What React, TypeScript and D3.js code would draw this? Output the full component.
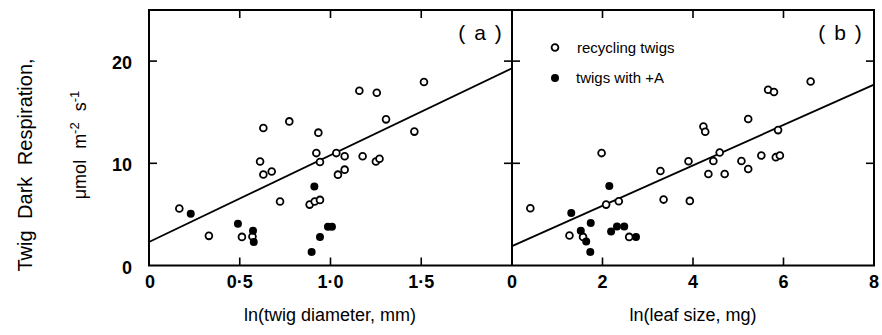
import React from "react";
import * as d3 from "d3";

// Panel (a): ln(twig diameter, mm)
const aOpenX = [0.167, 0.33, 0.512, 0.57, 0.612, 0.63, 0.63, 0.676, 0.722, 0.773, 0.885, 0.913, 0.942, 0.922, 0.942, 0.933, 1.032, 1.078, 1.041, 1.078, 1.159, 1.177, 1.25, 1.27, 1.255, 1.306, 1.462, 1.515];
const aOpenY = [5.57, 2.9, 2.8, 2.84, 10.17, 8.9, 13.45, 9.2, 6.26, 14.1, 5.96, 6.26, 6.42, 11.0, 10.13, 13.0, 11.0, 10.69, 8.89, 9.38, 17.1, 10.69, 10.17, 10.45, 16.9, 14.3, 13.1, 17.95];
const aFilledX = [0.23, 0.49, 0.573, 0.577, 0.896, 0.911, 0.942, 0.986, 1.008];
const aFilledY = [5.07, 4.09, 3.4, 2.3, 1.33, 7.73, 2.78, 3.79, 3.79];
const aLineX = [0, 2];
const aLineY = [2.3, 19.3];

// Panel (b): ln(leaf size, mg)
const bOpenX = [0.405, 1.27, 1.57, 1.98, 2.08, 2.36, 2.59, 3.28, 3.35, 3.9, 3.93, 4.23, 4.27, 4.34, 4.45, 4.59, 4.7, 5.07, 5.22, 5.22, 5.51, 5.66, 5.79, 5.83, 5.92, 5.88, 6.6];
const bOpenY = [5.6, 2.94, 2.8, 11.0, 5.96, 6.29, 2.8, 9.24, 6.45, 10.2, 6.32, 13.6, 13.08, 8.95, 10.23, 11.05, 8.95, 10.23, 9.44, 14.33, 10.76, 17.2, 16.97, 10.6, 10.76, 13.25, 18.0];
const bFilledX = [1.31, 1.52, 1.64, 1.74, 1.73, 2.15, 2.19, 2.32, 2.48, 2.74];
const bFilledY = [5.14, 3.4, 2.35, 4.16, 1.33, 7.77, 3.33, 3.82, 3.82, 2.8];
const bLineX = [0, 8];
const bLineY = [1.9, 17.7];

const aTicks = [0, 0.5, 1.0, 1.5];
const aTickLabels = ["0", "0·5", "1·0", "1·5"];
const bTicks = [0, 2, 4, 6, 8];
const bTickLabels = ["0", "2", "4", "6", "8"];
const yTicks = [0, 10, 20];
const yTickLabels = ["0", "10", "20"];
const legendLabels = ["recycling twigs", "twigs with +A"];

const FONT = "'Liberation Sans', Arial, Helvetica, sans-serif";

export default function App() {
  const top = 10, bottom = 265.5;
  const xA = d3.scaleLinear().domain([0, 2]).range([149, 512]);
  const xB = d3.scaleLinear().domain([0, 8]).range([512, 874]);
  const y = d3.scaleLinear().domain([0, 25]).range([bottom, top]);
  const line = d3.line<[number, number]>();

  const aLine = line(aLineX.map((v, i) => [xA(v), y(aLineY[i])] as [number, number]));
  const bLine = line(bLineX.map((v, i) => [xB(v), y(bLineY[i])] as [number, number]));

  const tl = 8;
  const r = 3.4;

  return (
    <svg width={882} height={335} style={{ position: "absolute", left: 0, top: 0, background: "#fff" }} fontFamily={FONT}>
      {/* frame */}
      <rect x={149} y={top} width={874 - 149} height={bottom - top} fill="none" stroke="#000" strokeWidth={2} />
      <line x1={512} x2={512} y1={top} y2={bottom} stroke="#000" strokeWidth={2} />

      {/* x ticks panel a */}
      {aTicks.filter(t => t > 0).map((t, i) => (
        <g key={"at" + i} stroke="#000" strokeWidth={1.6}>
          <line x1={xA(t)} x2={xA(t)} y1={top} y2={top + tl} />
          <line x1={xA(t)} x2={xA(t)} y1={bottom} y2={bottom - tl} />
        </g>
      ))}
      {bTicks.filter(t => t > 0 && t < 8).map((t, i) => (
        <g key={"bt" + i} stroke="#000" strokeWidth={1.6}>
          <line x1={xB(t)} x2={xB(t)} y1={top} y2={top + tl} />
          <line x1={xB(t)} x2={xB(t)} y1={bottom} y2={bottom - tl} />
        </g>
      ))}
      {/* y ticks */}
      {yTicks.filter(t => t > 0).map((t, i) => (
        <g key={"yt" + i} stroke="#000" strokeWidth={1.6}>
          <line x1={149} x2={149 + tl} y1={y(t)} y2={y(t)} />
          <line x1={512 - tl} x2={512 + tl} y1={y(t)} y2={y(t)} />
          <line x1={874} x2={874 - tl} y1={y(t)} y2={y(t)} />
        </g>
      ))}

      {/* tick labels */}
      {aTicks.map((t, i) => (
        <text key={"al" + i} x={xA(t) + (i === 0 ? 1 : 0)} y={288} textAnchor="middle" fontSize={18} fontWeight="bold">{aTickLabels[i]}</text>
      ))}
      {bTicks.map((t, i) => (
        <text key={"bl" + i} x={xB(t)} y={288} textAnchor="middle" fontSize={18} fontWeight="bold">{bTickLabels[i]}</text>
      ))}
      {yTicks.map((t, i) => (
        <text key={"yl" + i} x={132} y={y(t) + 2} textAnchor="end" dominantBaseline="central" fontSize={18} fontWeight="bold">{yTickLabels[i]}</text>
      ))}

      {/* axis titles */}
      <text x={330} y={321} textAnchor="middle" fontSize={18}>ln(twig diameter, mm)</text>
      <text x={693} y={321} textAnchor="middle" fontSize={18}>ln(leaf size, mg)</text>
      <text transform="translate(32,165) rotate(-90)" textAnchor="middle" fontSize={20} wordSpacing={6}>Twig Dark Respiration,</text>
      <text transform="translate(86,145) rotate(-90)" textAnchor="middle" fontSize={18} wordSpacing={6}>
        μmol m<tspan dy={-7} fontSize={13}>-2</tspan><tspan dy={7}> s</tspan><tspan dy={-7} fontSize={13}>-1</tspan>
      </text>

      {/* panel labels */}
      <text x={480} y={40} textAnchor="middle" fontSize={21} wordSpacing={3}>( a )</text>
      <text x={840} y={40} textAnchor="middle" fontSize={21} wordSpacing={3}>( b )</text>

      {/* regression lines */}
      <path d={aLine || ""} fill="none" stroke="#000" strokeWidth={1.8} />
      <path d={bLine || ""} fill="none" stroke="#000" strokeWidth={1.8} />

      {/* points */}
      {aOpenX.map((v, i) => (
        <circle key={"ao" + i} cx={xA(v)} cy={y(aOpenY[i])} r={r} fill="#fff" stroke="#000" strokeWidth={1.8} />
      ))}
      {aFilledX.map((v, i) => (
        <circle key={"af" + i} cx={xA(v)} cy={y(aFilledY[i])} r={r + 0.6} fill="#000" stroke="none" />
      ))}
      {bOpenX.map((v, i) => (
        <circle key={"bo" + i} cx={xB(v)} cy={y(bOpenY[i])} r={r} fill="#fff" stroke="#000" strokeWidth={1.8} />
      ))}
      {bFilledX.map((v, i) => (
        <circle key={"bf" + i} cx={xB(v)} cy={y(bFilledY[i])} r={r + 0.6} fill="#000" stroke="none" />
      ))}

      {/* legend */}
      <circle cx={555} cy={47.5} r={r} fill="#fff" stroke="#000" strokeWidth={1.8} />
      <text x={577} y={52.5} fontSize={15}>{legendLabels[0]}</text>
      <circle cx={555} cy={78} r={r + 0.6} fill="#000" />
      <text x={576} y={83} fontSize={15}>{legendLabels[1]}</text>
    </svg>
  );
}
